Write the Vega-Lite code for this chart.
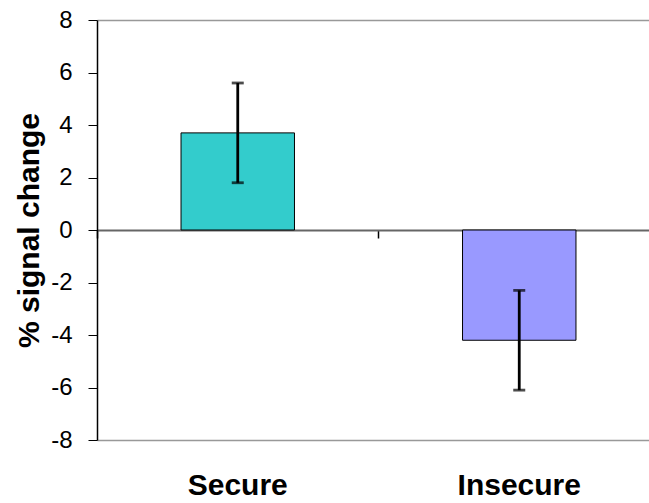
{
  "$schema": "https://vega.github.io/schema/vega-lite/v6.json",
  "autosize": "none",
  "width": 552,
  "height": 420,
  "padding": {"left": 97, "top": 20, "right": 0, "bottom": 63},
  "background": "white",
  "config": {
    "view": {"stroke": null},
    "font": "Liberation Sans",
    "axis": {"labelFont": "Liberation Sans", "titleFont": "Liberation Sans", "labelColor": "black", "titleColor": "black"}
  },
  "data": {
    "values": [
      {"group": "Secure", "mean": 3.7, "lo": 1.8, "hi": 5.6},
      {"group": "Insecure", "mean": -4.2, "lo": -6.1, "hi": -2.3}
    ]
  },
  "layer": [
    {
      "mark": {"type": "bar", "width": {"band": 0.403}, "stroke": "black", "strokeWidth": 1},
      "encoding": {
        "x": {
          "field": "group", "type": "nominal", "sort": ["Secure", "Insecure"],
          "scale": {"type": "band", "range": [0, 563], "paddingInner": 0, "paddingOuter": 0},
          "axis": {
            "orient": "bottom", "title": null, "domain": false, "ticks": false,
            "labelAngle": 0, "labelFontSize": 30, "labelFontWeight": "bold",
            "labelPadding": 30, "labelColor": "black"
          }
        },
        "y": {
          "field": "mean", "type": "quantitative",
          "scale": {"domain": [-8, 8], "nice": false, "zero": false},
          "axis": {
            "title": "% signal change", "values": [-8, -6, -4, -2, 0, 2, 4, 6, 8],
            "labelExpr": "replace(datum.label, '\u2212', '-')",
            "titleFontSize": 30, "titleFontWeight": "bold", "titleAngle": -90,
            "titleX": -68, "titleY": 210, "titleAlign": "center", "titleBaseline": "middle",
            "labelFontSize": 24, "labelPadding": 16, "tickSize": 9, "tickColor": "black",
            "tickWidth": 1, "domainColor": "black", "domainWidth": 1.5,
            "grid": true, "gridColor": "#999999", "gridWidth": 1.5,
            "gridOpacity": {"condition": {"test": "abs(datum.value) === 8", "value": 1}, "value": 0}
          }
        },
        "color": {
          "field": "group", "type": "nominal",
          "scale": {"domain": ["Secure", "Insecure"], "range": ["#33CCCC", "#9999FF"]},
          "legend": null
        }
      }
    },
    {
      "mark": {"type": "rule", "color": "black", "strokeWidth": 2.8},
      "encoding": {
        "x": {
          "field": "group", "type": "nominal", "sort": ["Secure", "Insecure"],
          "axis": {
            "orient": "bottom", "offset": -210, "title": null, "labels": false,
            "domain": true, "domainColor": "#666666", "domainWidth": 2,
            "ticks": true, "tickColor": "black", "tickWidth": 1.5, "tickSize": 8,
            "bandPosition": 0
          }
        },
        "y": {"field": "lo", "type": "quantitative", "title": "% signal change"},
        "y2": {"field": "hi"}
      }
    },
    {
      "mark": {"type": "tick", "color": "black", "size": 12, "thickness": 2.8},
      "encoding": {
        "x": {"field": "group", "type": "nominal", "sort": ["Secure", "Insecure"], "axis": null},
        "y": {"field": "lo", "type": "quantitative", "title": "% signal change"}
      }
    },
    {
      "mark": {"type": "tick", "color": "black", "size": 12, "thickness": 2.8},
      "encoding": {
        "x": {"field": "group", "type": "nominal", "sort": ["Secure", "Insecure"], "axis": null},
        "y": {"field": "hi", "type": "quantitative", "title": "% signal change"}
      }
    }
  ],
  "resolve": {"axis": {"x": "independent"}}
}
